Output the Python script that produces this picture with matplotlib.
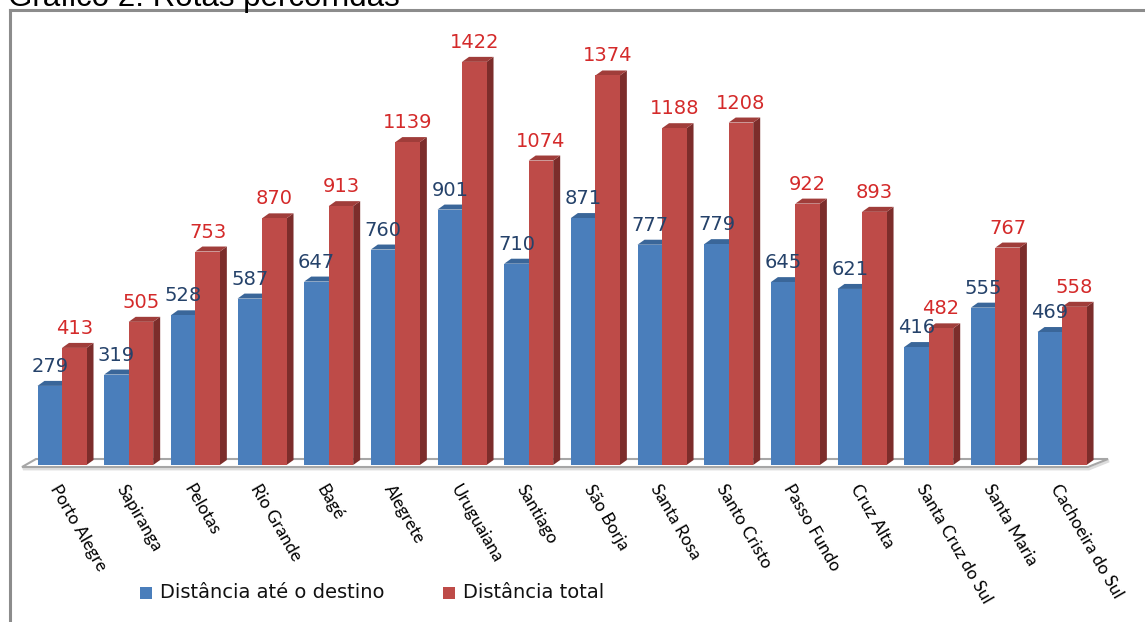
import matplotlib
matplotlib.use("Agg")
import matplotlib.pyplot as plt
from matplotlib.patches import Polygon, Rectangle
from matplotlib.lines import Line2D
import numpy as np

categories = ["Porto Alegre", "Sapiranga", "Pelotas", "Rio Grande", "Bagé", "Alegrete",
              "Uruguaiana", "Santiago", "São Borja", "Santa Rosa", "Santo Cristo",
              "Passo Fundo", "Cruz Alta", "Santa Cruz do Sul", "Santa Maria",
              "Cachoeira do Sul"]
dist_destino = [279, 319, 528, 587, 647, 760, 901, 710, 871, 777, 779, 645, 621, 416, 555, 469]
dist_total = [413, 505, 753, 870, 913, 1139, 1422, 1074, 1374, 1188, 1208, 922, 893, 482, 767, 558]
series_names = ["Distância até o destino", "Distância total"]
title = "Gráfico 2: Rotas percorridas"

W, H = 1145, 622
DPI = 100
fig = plt.figure(figsize=(W / DPI, H / DPI), dpi=DPI)
ax = fig.add_axes([0, 0, 1, 1])
ax.set_axis_off()

# pixel geometry of the plot area
X0, DXP = 62.0, 66.67      # px of first category boundary, px per category
Y0, SY = 465.0, 0.2835     # px of baseline, px per unit
ax.set_xlim(-X0 / DXP, (W - X0) / DXP)
ax.set_ylim((Y0 - H) / SY, Y0 / SY)

def p2d(px, py):
    return ((px - X0) / DXP, (Y0 - py) / SY)

bw = 24.5 / DXP
ddx = 7.0 / DXP
ddy = 5.0 / SY

blue, blue_top, blue_side = "#4A7EBB", "#3A6699", "#2E5280"
red, red_top, red_side = "#BE4B48", "#A03D3A", "#7C2D2B"
blue_lbl, red_lbl = "#25426A", "#D42A2A"

# floor
floor = [p2d(22, 467), p2d(36, 459), p2d(1108, 459), p2d(1088, 467)]
ax.add_patch(Polygon([p2d(23, 469), p2d(37, 461), p2d(1109, 461), p2d(1089, 469)],
                     closed=True, facecolor="none", edgecolor="#DDDDDD", lw=2, zorder=0.5))
ax.add_patch(Polygon(floor, closed=True, facecolor="white", edgecolor="#A6A6A6", lw=1.5, zorder=1))

x = np.arange(len(categories))

for i, (b, r) in enumerate(zip(dist_destino, dist_total)):
    xi = x[i]
    # blue side and top
    ax.add_patch(Polygon([(xi, 0), (xi + ddx, ddy), (xi + ddx, b + ddy), (xi, b)],
                         closed=True, facecolor=blue_side, edgecolor="none", zorder=2))
    ax.add_patch(Polygon([(xi - bw, b), (xi - bw + ddx, b + ddy), (xi + ddx, b + ddy), (xi, b)],
                         closed=True, facecolor=blue_top, edgecolor="none", zorder=2))
    # red side and top
    ax.add_patch(Polygon([(xi + bw, 0), (xi + bw + ddx, ddy), (xi + bw + ddx, r + ddy), (xi + bw, r)],
                         closed=True, facecolor=red_side, edgecolor="none", zorder=3))
    ax.add_patch(Polygon([(xi, r), (xi + ddx, r + ddy), (xi + bw + ddx, r + ddy), (xi + bw, r)],
                         closed=True, facecolor=red_top, edgecolor="none", zorder=3))

ax.bar(x - bw, dist_destino, width=bw, align="edge", color=blue, zorder=2.5)
ax.bar(x, dist_total, width=bw, align="edge", color=red, zorder=3.5)

off = 14.0 / SY
for i, (b, r) in enumerate(zip(dist_destino, dist_total)):
    ax.text(x[i] - bw / 2, b + off, str(b), ha="center", va="baseline",
            color=blue_lbl, fontsize=14, family="DejaVu Sans", zorder=5)
    ax.text(x[i] + bw / 2, r + off, str(r), ha="center", va="baseline",
            color=red_lbl, fontsize=14, family="DejaVu Sans", zorder=5)

# category labels
ylab = p2d(0, 482)[1]
for i, c in enumerate(categories):
    ax.text(x[i] - 1 / DXP, ylab, c, rotation=-60, rotation_mode="anchor",
            ha="left", va="top", fontsize=12.5, family="Lato", color="black")

# legend (manual)
def fx(px):
    return px / W

def fy(py):
    return 1 - py / H

for (sx, tx, col, name) in [(140, 160, blue, series_names[0]), (443, 463, red, series_names[1])]:
    fig.patches.append(Rectangle((fx(sx), fy(599)), 12 / W, 12 / H, transform=fig.transFigure,
                                 facecolor=col, edgecolor="none"))
    fig.text(fx(tx), fy(593), name, ha="left", va="center", fontsize=14,
             family="DejaVu Sans", color="#111111")

# border
fig.lines.append(Line2D([fx(9.5), fx(9.5)], [fy(9.5), fy(H + 5)], transform=fig.transFigure,
                        color="#8C8C8C", lw=2.2))
fig.lines.append(Line2D([fx(9.5), fx(W + 5)], [fy(9.5), fy(9.5)], transform=fig.transFigure,
                        color="#8C8C8C", lw=2.2))

# title (partially cut by the top edge, as in the reference)
fig.text(fx(8), fy(6), title, ha="left", va="baseline", fontsize=22.5,
         family="Liberation Sans", color="black")

fig.savefig("out.png", dpi=DPI)
